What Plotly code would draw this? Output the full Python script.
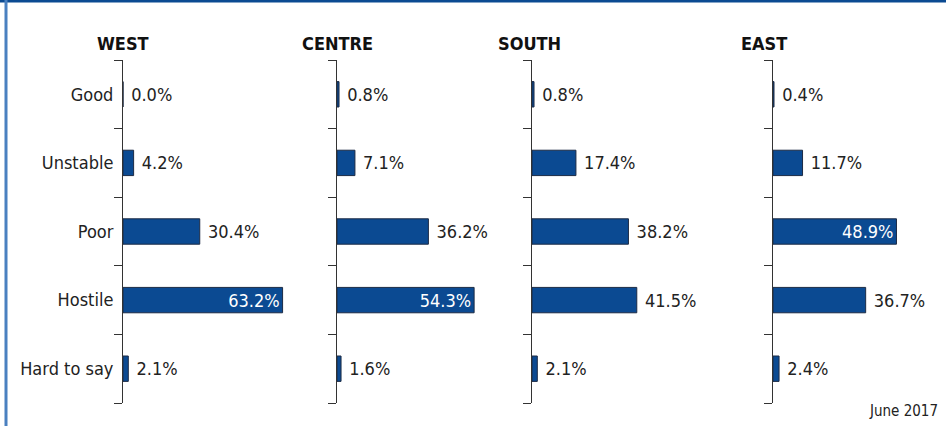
import plotly.graph_objects as go

W, H = 946, 426

categories = ['Good', 'Unstable', 'Poor', 'Hostile', 'Hard to say']
regions = ['WEST', 'CENTRE', 'SOUTH', 'EAST']
west = [0.0, 4.2, 30.4, 63.2, 2.1]
centre = [0.8, 7.1, 36.2, 54.3, 1.6]
south = [0.8, 17.4, 38.2, 41.5, 2.1]
east = [0.4, 11.7, 48.9, 36.7, 2.4]
series = [west, centre, south, east]

# pixel layout of each panel (axis line x, max of x range)
axis_px = [123, 337, 532, 773]
x_max = [80, 75, 90, 66]
px_per_pct = 2.525
title_px = [123, 337, 529, 764]

BAR = '#0b4a92'
FONT = 'DejaVu Sans Condensed, Liberation Sans Narrow, Arial Narrow, sans-serif'

ypos = list(range(len(categories)))
bounds = [k - 0.5 for k in range(len(categories) + 1)]


def px(x):
    return x / W


def py(y):
    return 1 - y / H


fig = go.Figure()
layout = {}
for i, vals in enumerate(series):
    n = '' if i == 0 else str(i + 1)
    pos = ['inside' if v > 45 else 'outside' for v in vals]
    txt = [f'{v:.1f}%' if p == 'inside' else f' {v:.1f}%' for v, p in zip(vals, pos)]
    fig.add_trace(go.Bar(
        x=vals, y=ypos, orientation='h',
        xaxis='x' + n, yaxis='y' + n,
        marker=dict(color=BAR, line=dict(color='#1c2b45', width=1)),
        width=0.37,
        text=txt, textposition=pos,
        insidetextanchor='end', constraintext='none',
        insidetextfont=dict(color='white', size=18, family=FONT),
        outsidetextfont=dict(color='#222', size=18, family=FONT),
        cliponaxis=False, showlegend=False, hoverinfo='skip',
    ))
    x0 = axis_px[i]
    x1 = x0 + x_max[i] * px_per_pct
    layout['xaxis' + n] = dict(
        domain=[px(x0), px(x1)], range=[0, x_max[i]], anchor='y' + n,
        visible=False, fixedrange=True,
    )
    layout['yaxis' + n] = dict(
        domain=[py(403), py(60)], range=[bounds[-1], bounds[0]], anchor='x' + n,
        type='linear', tickmode='array', tickvals=ypos, ticktext=categories,
        ticks='', showline=True, linecolor='#333', linewidth=1,
        minor=dict(tickmode='array', tickvals=bounds, ticks='outside', ticklen=8,
                   tickwidth=1, tickcolor='#333', showgrid=False),
        showgrid=False, zeroline=False, showticklabels=(i == 0),
        ticklabelstandoff=5,
        tickfont=dict(size=18, color='#222', family=FONT), fixedrange=True,
    )

annotations = [
    dict(x=px(title_px[i]), y=py(43), xref='paper', yref='paper', text=f'<b>{r}</b>',
         showarrow=False, xanchor='center', yanchor='middle',
         font=dict(size=18, color='#111', family=FONT))
    for i, r in enumerate(regions)
]
annotations.append(dict(x=px(940), y=py(411), xref='paper', yref='paper', text='June 2017',
                        showarrow=False, xanchor='right', yanchor='middle',
                        font=dict(size=15, color='#222', family=FONT)))

shapes = [
    dict(type='line', xref='paper', yref='paper', x0=0, x1=1, y0=py(1), y1=py(1),
         line=dict(color='#0b4a92', width=3)),
    dict(type='line', xref='paper', yref='paper', x0=px(6), x1=px(6), y0=0, y1=1,
         line=dict(color='#4a80c0', width=3)),
]

fig.update_layout(
    width=W, height=H,
    margin=dict(l=0, r=0, t=0, b=0),
    paper_bgcolor='white', plot_bgcolor='rgba(0,0,0,0)',
    annotations=annotations, shapes=shapes,
    **layout,
)

fig.write_html('out.html', config={'displayModeBar': False},
               post_script="document.body.style.margin='0';document.body.style.overflow='hidden';")
